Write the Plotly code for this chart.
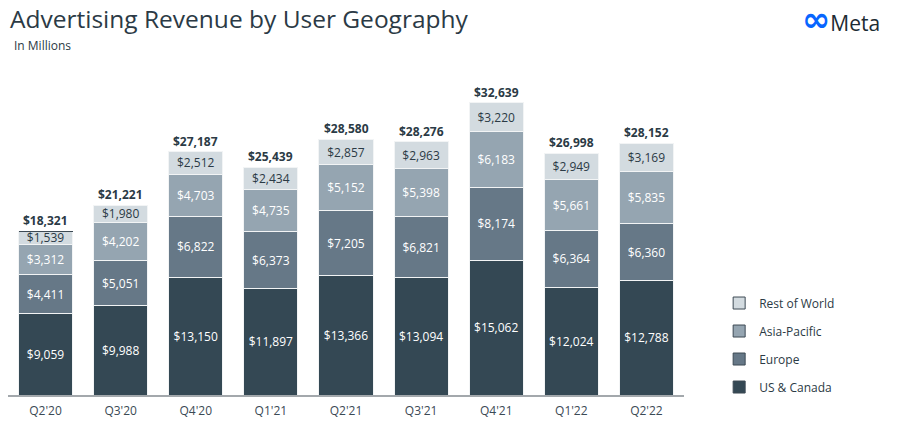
import plotly.graph_objects as go

quarters = ["Q2'20", "Q3'20", "Q4'20", "Q1'21", "Q2'21", "Q3'21", "Q4'21", "Q1'22", "Q2'22"]
us_canada = [9059, 9988, 13150, 11897, 13366, 13094, 15062, 12024, 12788]
europe = [4411, 5051, 6822, 6373, 7205, 6821, 8174, 6364, 6360]
asia_pacific = [3312, 4202, 4703, 4735, 5152, 5398, 6183, 5661, 5835]
rest_of_world = [1539, 1980, 2512, 2434, 2857, 2963, 3220, 2949, 3169]
totals = [18321, 21221, 27187, 25439, 28580, 28276, 32639, 26998, 28152]

series = [
    ("US & Canada", us_canada, "#344854", "white"),
    ("Europe", europe, "#667887", "white"),
    ("Asia-Pacific", asia_pacific, "#95a5b1", "white"),
    ("Rest of World", rest_of_world, "#d3dbe0", "#2b3a45"),
]

FONT = "Open Sans"
DARK = "#2b3a45"

fig = go.Figure()
for name, vals, color, txt in series:
    fig.add_bar(
        x=quarters,
        y=vals,
        name=name,
        marker=dict(color=color, line=dict(color="#f2f4f5", width=1)),
        texttemplate="$%{y:,}",
        textposition="inside",
        insidetextanchor="middle",
        constraintext="none",
        textfont=dict(family=FONT, size=12, color=txt),
        showlegend=False,
        hoverinfo="skip",
    )

# legend entries (boxes with dark outline like the slide), Rest of World on top
for i, (name, vals, color, txt) in enumerate(series):
    fig.add_bar(
        x=[quarters[0]],
        y=[0],
        name=name,
        legendgroup=name,
        legendrank=10 * (len(series) - i),
        marker=dict(color=color, line=dict(color="#3d4a54", width=1)),
        showlegend=True,
        hoverinfo="skip",
    )

# totals above each stack
for q, t in zip(quarters, totals):
    fig.add_annotation(
        x=q, y=t,
        text="<b>$" + f"{t:,}" + "</b>",
        showarrow=False,
        yanchor="bottom",
        yshift=1,
        borderpad=0,
        font=dict(family=FONT, size=12, color=DARK),
    )

fig.update_layout(
    barmode="stack",
    bargap=0.28,
    width=912,
    height=427,
    margin=dict(l=0, r=236, t=72, b=40),
    plot_bgcolor="white",
    paper_bgcolor="white",
    font=dict(family=FONT, color=DARK),
    uniformtext=dict(minsize=12, mode="show"),
    legend=dict(
        traceorder="grouped",
        x=1.052,
        y=0.338,
        xanchor="left",
        yanchor="top",
        font=dict(family=FONT, size=12, color=DARK),
        tracegroupgap=9,
        itemwidth=30,
    ),
)
fig.add_annotation(text="Advertising Revenue by User Geography", xref="paper", yref="paper",
                   x=0.0, y=1.195, xanchor="left", yanchor="middle", showarrow=False,
                   font=dict(family=FONT, size=24.5, color=DARK))
fig.add_annotation(text="In Millions", xref="paper", yref="paper",
                   x=0.006, y=1.111, xanchor="left", yanchor="middle", showarrow=False,
                   font=dict(family=FONT, size=12, color=DARK))
fig.add_annotation(text="<span style='color:#0866ff;font-family:DejaVu Sans;font-size:34px;font-weight:bold'>∞</span>Meta",
                   xref="paper", yref="paper",
                   x=1.293, y=1.195, xanchor="right", yanchor="middle", showarrow=False,
                   font=dict(family=FONT, size=21, color="#1c2b33"))

fig.update_xaxes(
    showline=True,
    linecolor="#a3a8ac",
    linewidth=2,
    ticks="",
    ticklabelstandoff=4,
    tickfont=dict(family=FONT, size=12, color="#3b4a55"),
    showgrid=False,
    fixedrange=True,
)
fig.update_yaxes(
    range=[0, 35200],
    visible=False,
    showgrid=False,
    fixedrange=True,
)

fig.write_html("out.html")
